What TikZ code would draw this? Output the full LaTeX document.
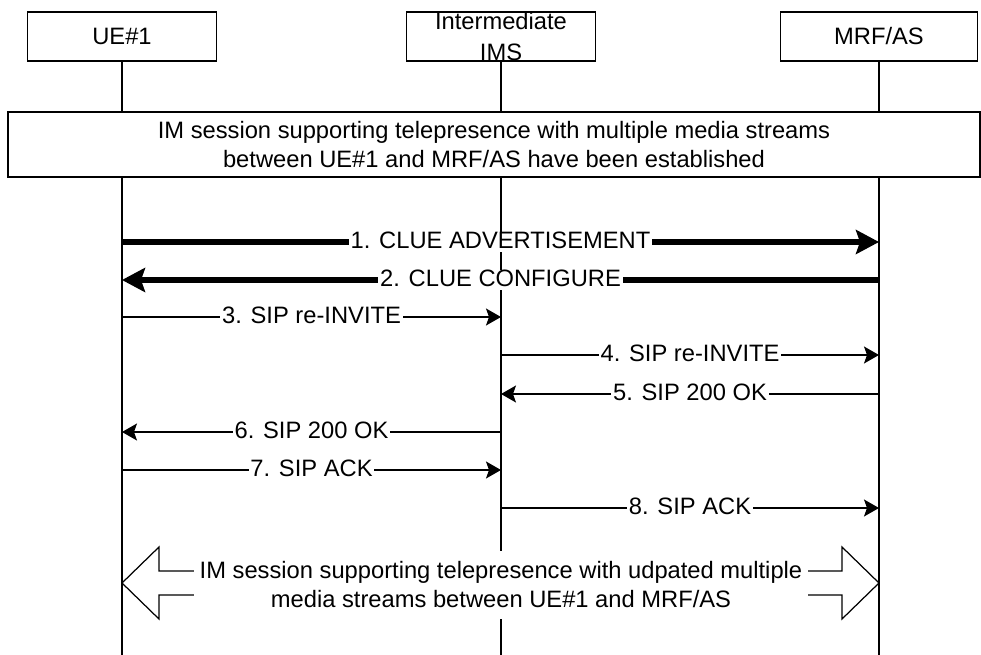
\documentclass[tikz,border=0pt]{standalone}
\usepackage{fontspec}
\setmainfont{Liberation Sans}
\usetikzlibrary{arrows.meta,positioning,calc}

\begin{document}
\begin{tikzpicture}[
    x=0.02cm, y=-0.02cm,
    font=\fontsize{13.5}{16.5}\selectfont,
    line width=0.7pt,
    entity/.style={rectangle, draw=black, minimum width=3.78cm, minimum height=0.98cm, inner ysep=0pt, align=center},
    life/.style={draw=black},
    sessbox/.style={rectangle, draw=black, fill=white, minimum width=19.44cm, minimum height=1.3cm, align=center},
    msg/.style={-{Stealth[length=3mm,width=3.4mm,inset=0.6mm]}},
    bigmsg/.style={line width=2.85pt, -{Stealth[length=4.6mm,width=4.8mm,inset=0.8mm]}},
    lbl/.style={fill=white, inner xsep=1pt, inner ysep=2pt, text height=0.72em, text depth=0pt}
]
    \useasboundingbox (0,0) rectangle (981,655);

    % entities and lifelines
    \node[entity] (ue) at (122,36.5) {UE\#1};
    \node[entity] (ims) at (501,36.5) {Intermediate\\[1.5pt]IMS};
    \node[entity, minimum width=3.94cm] (mrf) at (879,36.5) {MRF/AS};
    \coordinate (bottom) at (0,655);
    \foreach \n in {ue,ims,mrf}
        \draw[life] (\n.south) -- (\n.south |- bottom);

    \node[sessbox] (est) at (494,144.5) {IM session supporting telepresence with multiple media streams\\between UE\#1 and MRF/AS have been established};

    % message rows
    \foreach \i/\y in {1/242,2/280,3/317,4/355,5/394,6/432,7/470,8/508,9/583}
        \coordinate (r\i) at (0,\y);

    \draw[bigmsg] (ue |- r1) -- node[lbl] {1. CLUE ADVERTISEMENT} (mrf |- r1);
    \draw[bigmsg] (mrf |- r2) -- node[lbl] {2. CLUE CONFIGURE} (ue |- r2);
    \draw[msg] (ue |- r3) -- node[lbl] {3. SIP re-INVITE} (ims |- r3);
    \draw[msg] (ims |- r4) -- node[lbl] {4. SIP re-INVITE} (mrf |- r4);
    \draw[msg] (mrf |- r5) -- node[lbl] {5. SIP 200 OK} (ims |- r5);
    \draw[msg] (ims |- r6) -- node[lbl] {6. SIP 200 OK} (ue |- r6);
    \draw[msg] (ue |- r7) -- node[lbl] {7. SIP ACK} (ims |- r7);
    \draw[msg] (ims |- r8) -- node[lbl] {8. SIP ACK} (mrf |- r8);

    % updated session
    \draw (ue |- r9) -- ++(37,-36) -- ++(0,24) -- ($(mrf |- r9)+(-37,-12)$) -- ++(0,-24)
        -- (mrf |- r9) -- ++(-37,36) -- ++(0,-24) -- ($(ue |- r9)+(37,12)$) -- ++(0,24) -- cycle;
    \node[fill=white, text width=12.2cm, align=flush center, inner xsep=1pt, inner ysep=6pt] (upd) at ($(ims |- r9)+(0,2)$)
        {IM session supporting telepresence with udpated multiple\\media streams between UE\#1 and MRF/AS};
\end{tikzpicture}
\end{document}
